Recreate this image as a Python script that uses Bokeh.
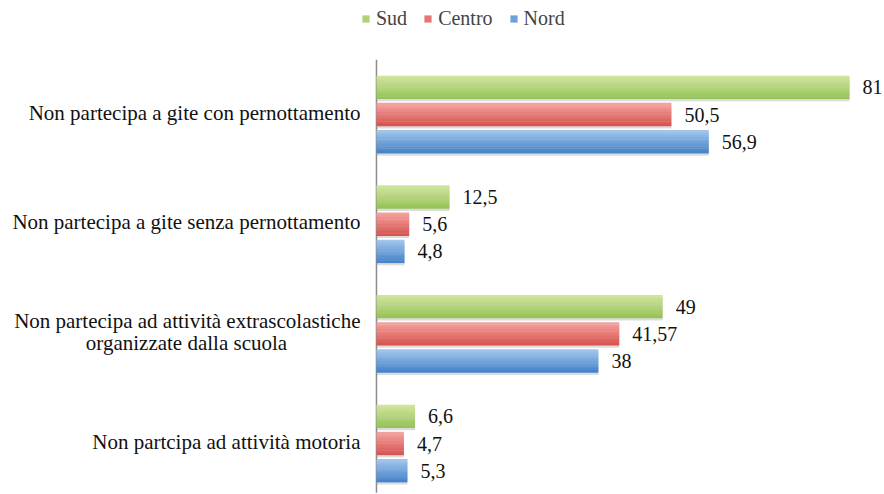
from bokeh.plotting import figure
from bokeh.models import ColumnDataSource, LabelSet, Legend, LegendItem, Range1d
from bokeh.transform import dodge
from bokeh.embed import file_html
from bokeh.resources import INLINE

# ---------------- data ----------------
categories = [
    "Non partecipa a gite con pernottamento",
    "Non partecipa a gite senza pernottamento",
    "Non partecipa ad attività extrascolastiche\norganizzate dalla scuola",
    "Non partcipa ad attività motoria",
]
series = ["Sud", "Centro", "Nord"]
sud = [81, 12.5, 49, 6.6]
centro = [50.5, 5.6, 41.57, 4.7]
nord = [56.9, 4.8, 38, 5.3]

# ---------------- style ----------------
FONT = "Liberation Serif"
FS = "20px"
CAT_FS = "21px"
top_cols = {"Sud": (210, 230, 160), "Centro": (245, 165, 162), "Nord": (165, 200, 236)}
bot_cols = {"Sud": (148, 194, 86), "Centro": (214, 82, 78), "Nord": (66, 128, 200)}
offsets = {"Sud": 0.248, "Centro": 0.0, "Nord": -0.248}
BAR_H = 0.21
N_SLICES = 10

ypos = [3 - i for i in range(len(categories))]
values = {"Sud": sud, "Centro": centro, "Nord": nord}


def fmt(v):
    return ("%g" % v).replace(".", ",")


p = figure(width=884, height=494, output_backend="svg", toolbar_location=None,
           x_range=Range1d(-64.38, 86.99), y_range=Range1d(-0.465, 4.04),
           min_border_left=0, min_border_right=0, min_border_top=0,
           min_border_bottom=0)
p.xaxis.visible = False
p.yaxis.visible = False
p.xgrid.visible = False
p.ygrid.visible = False
p.outline_line_color = None
p.background_fill_color = "white"

# vertical axis line
p.segment(x0=[0], y0=[-0.45], x1=[0], y1=[3.5], line_color="#8c8c8c", line_width=1.5)

legend_items = []
for s in series:
    src = ColumnDataSource(dict(y=ypos, v=values[s], lab=[fmt(v) for v in values[s]]))
    # shadow
    p.hbar(y=dodge("y", offsets[s] - 0.022, range=p.y_range), left=0, right="v",
           height=BAR_H, source=src, fill_color="#9a9a9a", fill_alpha=0.35,
           line_color=None)
    mid_r = None
    for k in range(N_SLICES):
        t = (k + 0.5) / N_SLICES
        c0, c1 = top_cols[s], bot_cols[s]
        col = "#%02x%02x%02x" % tuple(int(round(a + (b - a) * t)) for a, b in zip(c0, c1))
        off = offsets[s] + BAR_H / 2 - (k + 0.5) * BAR_H / N_SLICES
        r = p.hbar(y=dodge("y", off, range=p.y_range), left=0, right="v",
                   height=BAR_H / N_SLICES * 1.15, source=src, fill_color=col,
                   line_color=None)
        if k == N_SLICES // 2:
            mid_r = r
    legend_items.append(LegendItem(label=s, renderers=[mid_r]))
    lbl = LabelSet(x="v", y=dodge("y", offsets[s], range=p.y_range), text="lab",
                   source=src, x_offset=13, text_font=FONT, text_font_size=FS,
                   text_baseline="middle", text_color="#111111")
    p.add_layout(lbl)

# category labels: single-line ones right aligned; wrapped ones have their
# first line right aligned and the second line centred under it
single = [(y, c) for y, c in zip(ypos, categories) if "\n" not in c]
multi = [(y, c.split("\n")) for y, c in zip(ypos, categories) if "\n" in c]
cat_style = dict(text_baseline="middle", text_font=FONT, text_font_size=CAT_FS,
                 text_color="#111111")
single_src = ColumnDataSource(dict(y=[a for a, _ in single], x=[0] * len(single),
                                   cat=[b for _, b in single]))
first_src = ColumnDataSource(dict(y=[a for a, _ in multi], x=[0] * len(multi),
                                  cat=[b[0] for _, b in multi]))
second_src = ColumnDataSource(dict(y=[a for a, _ in multi], x=[0] * len(multi),
                                   cat=[b[1] for _, b in multi]))
p.add_layout(LabelSet(x="x", y="y", text="cat", source=single_src, x_offset=-16,
                      y_offset=2, text_align="right", **cat_style))
p.add_layout(LabelSet(x="x", y="y", text="cat", source=first_src, x_offset=-16,
                      y_offset=13, text_align="right", **cat_style))
p.add_layout(LabelSet(x="x", y="y", text="cat", source=second_src, x_offset=-190,
                      y_offset=-9, text_align="center", **cat_style))

legend = Legend(items=legend_items, orientation="horizontal", location=(361, 464),
                label_text_font=FONT, label_text_font_size=FS,
                glyph_width=9, glyph_height=9, label_standoff=6, spacing=16,
                padding=0, margin=0, border_line_alpha=0, background_fill_alpha=0)
p.add_layout(legend, "center")

open("out.html", "w").write(file_html(p, INLINE))
